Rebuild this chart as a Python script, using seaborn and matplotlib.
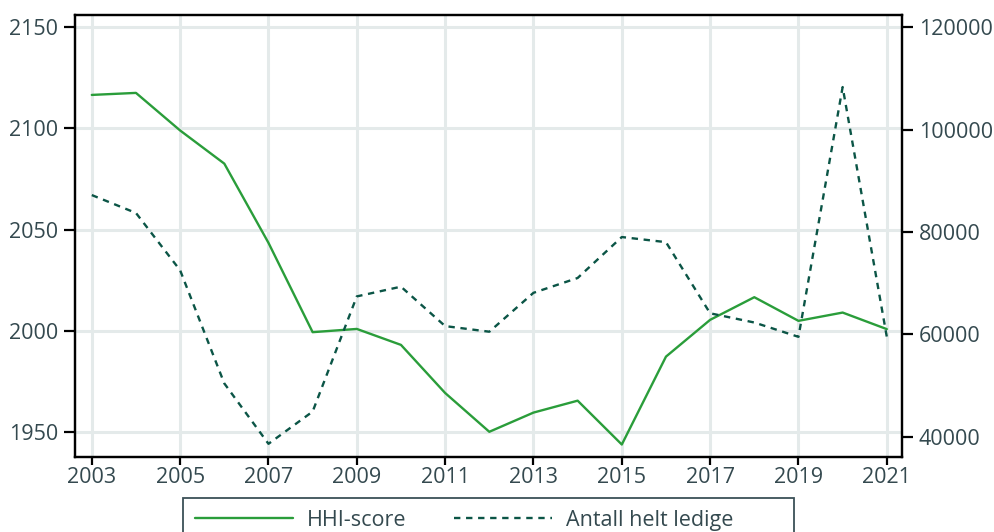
import matplotlib
matplotlib.use("Agg")
import matplotlib.pyplot as plt
from matplotlib.patches import Rectangle
import numpy as np
import pandas as pd
import seaborn as sns

years = list(range(2003, 2022))
hhi_score = [2116.6, 2117.6, 2099.0, 2082.6, 2043.4, 1999.2, 2000.8, 1992.9, 1969.1,
             1949.9, 1959.4, 1965.3, 1943.6, 1987.1, 2005.3, 2016.5, 2004.8, 2008.9, 2000.7]
ledige = [87200, 83700, 72500, 50400, 38600, 44900, 67400, 69300, 61600,
          60500, 68100, 71000, 79000, 78000, 64100, 62300, 59500, 108300, 59500]

df = pd.DataFrame({"year": years, "hhi": hhi_score, "ledige": ledige})

sns.set_style("white")
plt.rcParams["font.family"] = ["Open Sans", "DejaVu Sans"]
text_col = "#34494f"
green = "#2a9d3a"
dark = "#0b5546"
grid_col = "#e4eaea"

W, H = 995, 532
fig, ax = plt.subplots(figsize=(W / 100, H / 100), dpi=100)
fig.subplots_adjust(left=0.0754, right=0.9068, top=0.972, bottom=0.1405)

sns.lineplot(data=df, x="year", y="hhi", ax=ax, color=green, lw=1.7, label="HHI-score", legend=False)
ax2 = ax.twinx()
sns.lineplot(data=df, x="year", y="ledige", ax=ax2, color=dark, lw=1.7,
             linestyle=(0, (2.7, 2.4)), label="Antall helt ledige", legend=False)

ax.set_xlim(2002.62, 2021.35)
ax.set_ylim(1937.3, 2156.2)
ax2.set_ylim(35975, 122400)
ax.set_xticks(range(2003, 2022, 2))
ax.set_yticks([1950, 2000, 2050, 2100, 2150])
ax2.set_yticks([40000, 60000, 80000, 100000, 120000])

ax.grid(True, color=grid_col, lw=2.2)
ax.set_axisbelow(True)
ax2.grid(False)
for a in (ax, ax2):
    a.set_xlabel("")
    a.set_ylabel("")
    for s in a.spines.values():
        s.set_color("black")
        s.set_linewidth(1.6)
    a.tick_params(direction="out", length=8, width=1.6, color="black",
                  labelsize=15.5, labelcolor=text_col, pad=4)
ax.tick_params(axis="x", bottom=True, length=6, pad=1)
ax.tick_params(axis="y", left=True)
ax2.tick_params(axis="y", right=True)

# legend (frame drawn separately, it runs off the bottom edge)
h1, l1 = ax.get_legend_handles_labels()
h2, l2 = ax2.get_legend_handles_labels()
leg = fig.legend(h1 + h2, l1 + l2, loc="upper left",
                 bbox_to_anchor=(183 / W, 1 - 498 / H), bbox_transform=fig.transFigure,
                 borderaxespad=0, ncol=2, frameon=False, fontsize=15.5,
                 handlelength=4.55, handletextpad=0.65, columnspacing=2.2,
                 borderpad=0.55, labelcolor=text_col)
fig.patches.append(Rectangle((183 / W, -0.05), (794 - 183) / W, 0.05 + 1 - 498 / H,
                             transform=fig.transFigure, fill=False,
                             edgecolor="#3c5057", lw=1.3))

fig.savefig("out.png", dpi=100)
